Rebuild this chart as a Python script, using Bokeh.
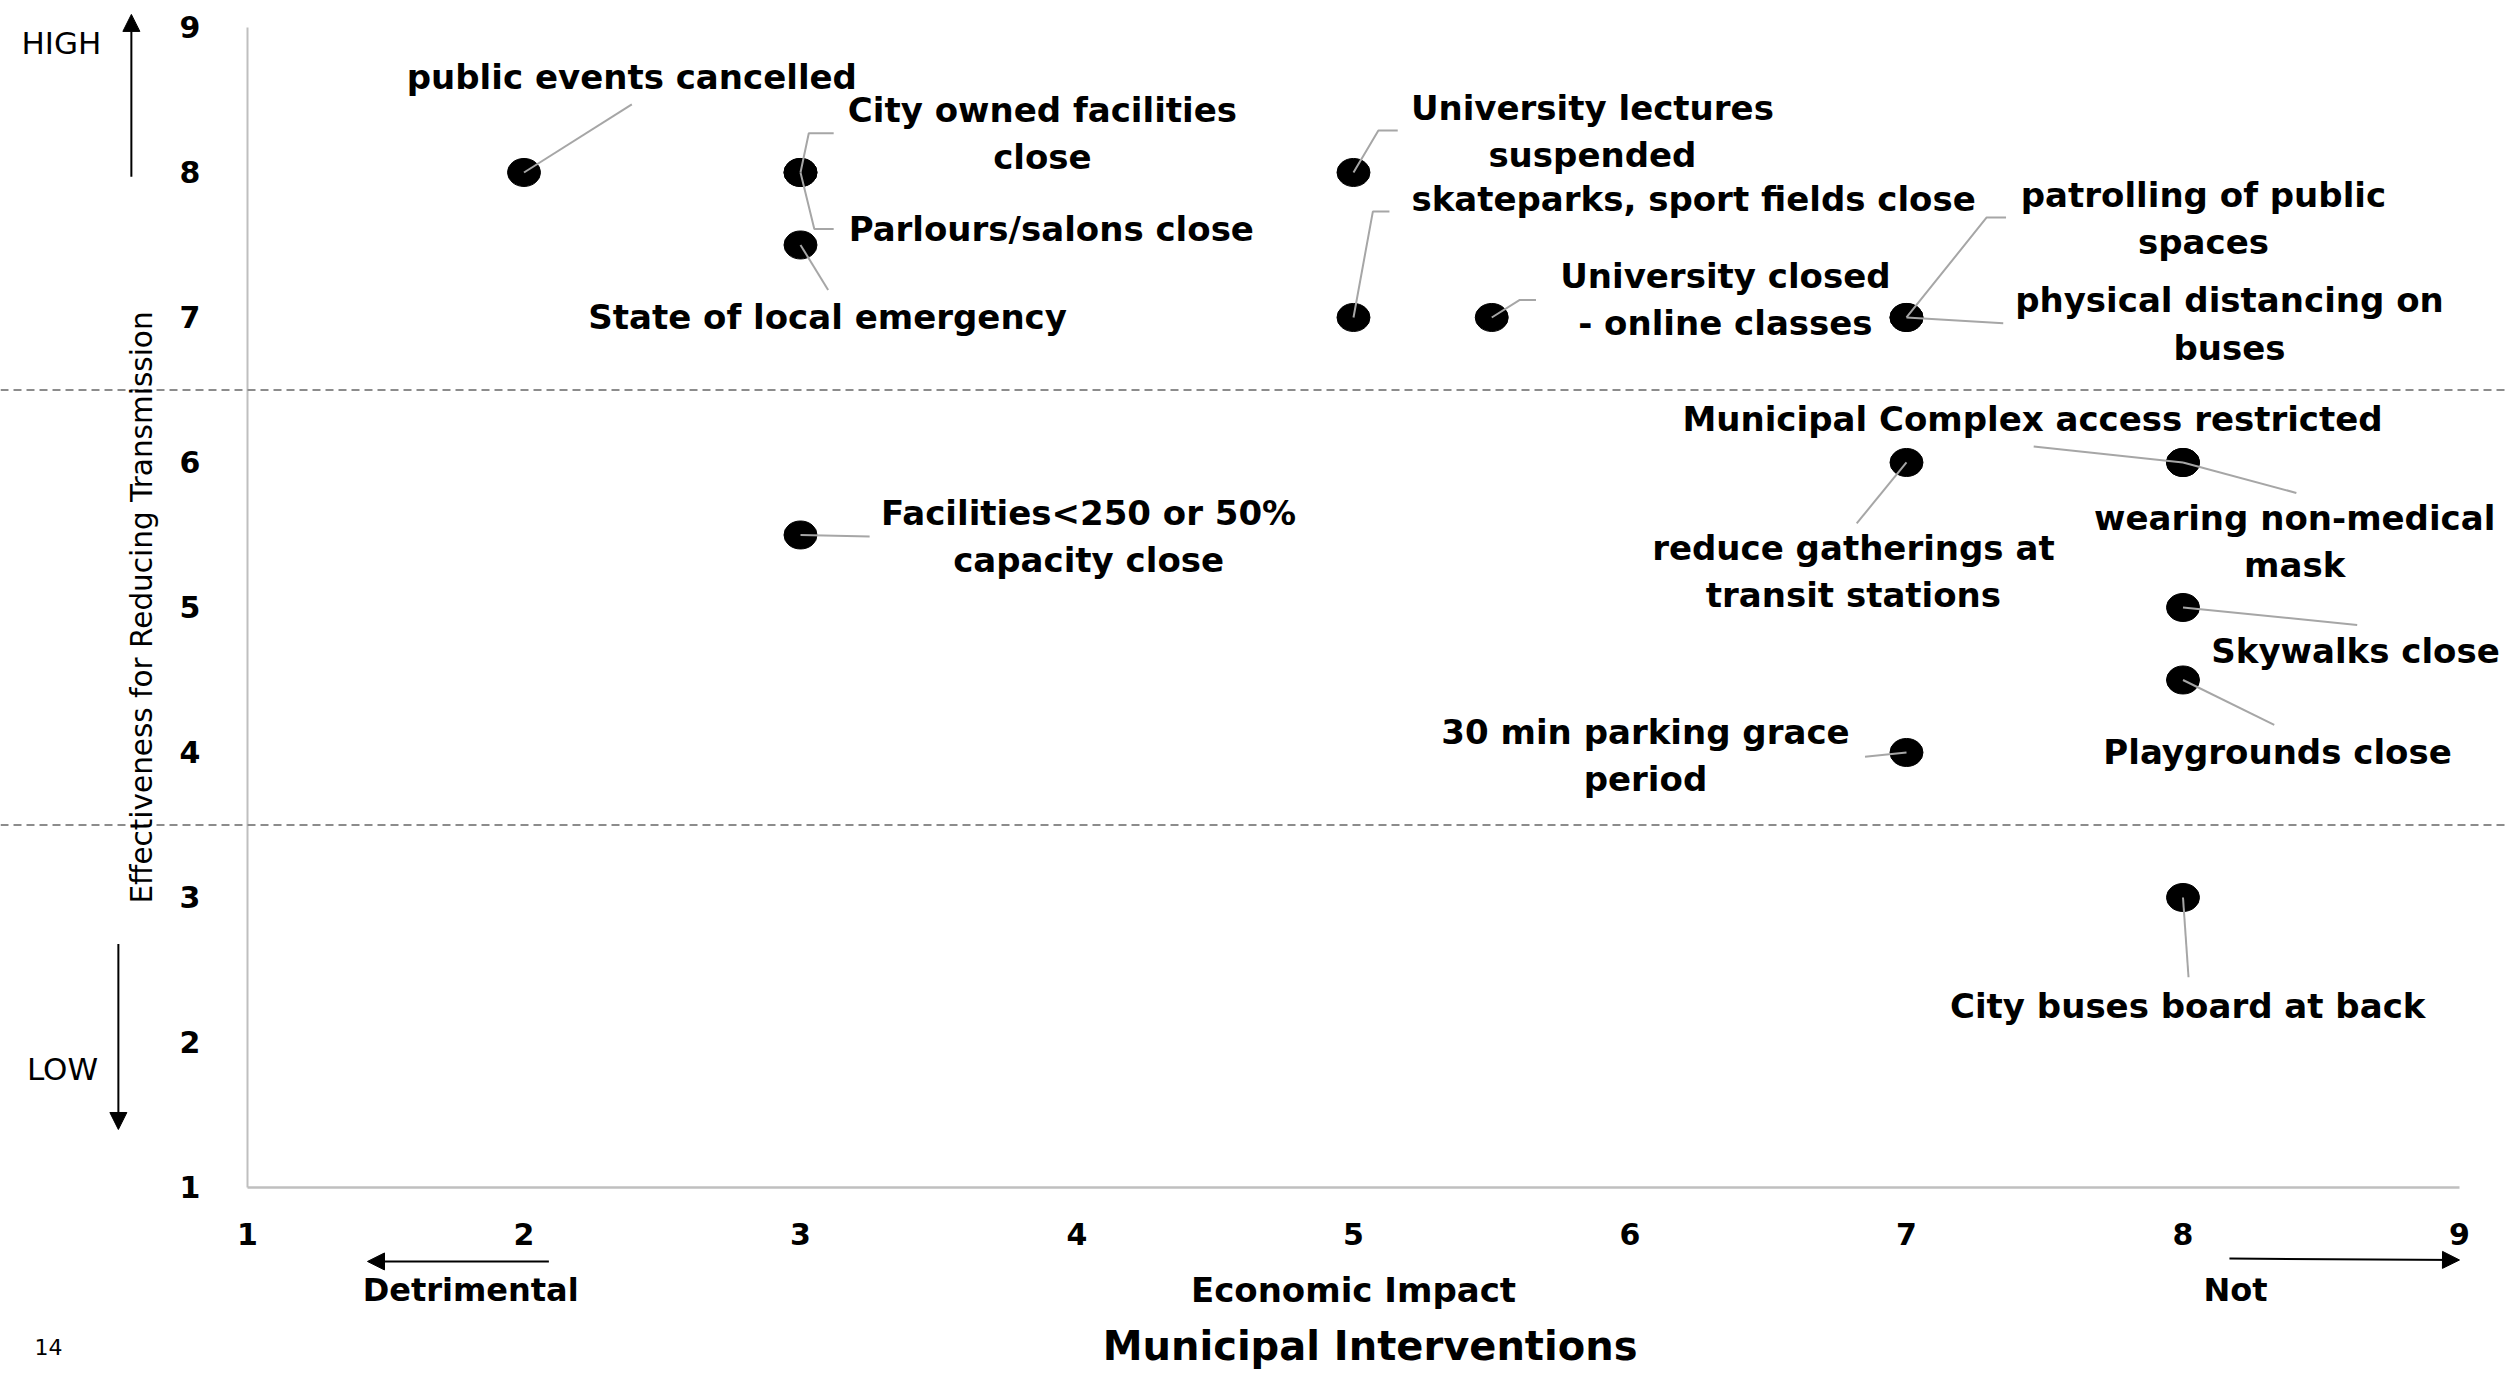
import math
from bokeh.plotting import figure
from bokeh.models import Range1d, FixedTicker, Span, Label, Arrow, NormalHead, ColumnDataSource, LinearAxis
from bokeh.core.properties import value
from bokeh.embed import file_html
from bokeh.resources import INLINE

# ---------------- data ----------------
interventions = [
    "public events cancelled",
    "City owned facilities\nclose",
    "Parlours/salons close",
    "State of local emergency",
    "University lectures\nsuspended",
    "skateparks, sport fields close",
    "University closed\n- online classes",
    "patrolling of public\nspaces",
    "physical distancing on\nbuses",
    "Municipal Complex access restricted",
    "reduce gatherings at\ntransit stations",
    "wearing non-medical\nmask",
    "Skywalks close",
    "Playgrounds close",
    "30 min parking grace\nperiod",
    "City buses board at back",
    "Facilities<250 or 50%\ncapacity close",
]
economic_impact = [2, 3, 3, 3, 5, 5, 5.5, 7, 7, 8, 7, 8, 8, 8, 7, 8, 3]
effectiveness = [8, 8, 8, 7.5, 8, 7, 7, 7, 7, 6, 6, 6, 5, 4.5, 4, 3, 5.5]
x_ticks = [1, 2, 3, 4, 5, 6, 7, 8, 9]
y_ticks = [1, 2, 3, 4, 5, 6, 7, 8, 9]
thresholds = [6.5, 3.5]
x_title = "Economic Impact"
y_title = "Effectiveness for Reducing Transmission"
chart_title = "Municipal Interventions"

# ---------------- label layout (positions of text and leader elbows) ----------------
label_x = [2.39, 3.875, 3.907, 3.098, 5.864, 6.23, 6.345, 8.074, 8.168, 7.456, 6.808, 8.404, 8.624, 8.342, 6.056, 8.017, 4.042]
label_y = [8.655, 8.269, 7.612, 7.0, 8.283, 7.818, 7.124, 7.683, 6.955, 6.297, 5.248, 5.455, 4.697, 4.0, 3.979, 2.255, 5.49]
leader_x = [[2.39], [3.03, 3.12], [3.05, 3.12], [3.1], [5.09, 5.16], [5.07, 5.13], [5.6, 5.66], [7.29, 7.36], [7.35],
            [7.46], [6.82], [8.41], [8.63], [8.33], [6.85], [8.02], [3.25]]
leader_y = [[8.47], [8.27, 8.27], [7.61, 7.61], [7.19], [8.29, 8.29], [7.73, 7.73], [7.12, 7.12], [7.69, 7.69], [6.96],
            [6.11], [5.58], [5.79], [4.88], [4.19], [3.97], [2.45], [5.49]]

FONT = "DejaVu Sans"

# frame fills the whole canvas; axes are drawn at fixed data locations inside it
p = figure(width=2505, height=1374, output_backend="svg", toolbar_location=None,
           x_range=Range1d(0.1067, 9.1664), y_range=Range1d(-0.2897, 9.186),
           x_axis_location=None, y_axis_location=None,
           min_border_left=0, min_border_right=0, min_border_top=0, min_border_bottom=0)
p.outline_line_color = None
p.grid.visible = False
p.background_fill_color = "white"
p.border_fill_color = "white"

xaxis = LinearAxis(fixed_location=1)
yaxis = LinearAxis(fixed_location=1)
p.add_layout(xaxis, "below")
p.add_layout(yaxis, "left")

for ax, ticks in ((xaxis, x_ticks), (yaxis, y_ticks)):
    ax.ticker = FixedTicker(ticks=ticks)
    ax.bounds = (1, 9)
    ax.major_tick_line_color = None
    ax.minor_tick_line_color = None
    ax.axis_line_color = "#bfbfbf"
    ax.major_label_text_font = FONT
    ax.major_label_text_font_style = "bold"
    ax.major_label_text_font_size = "30px"
    ax.major_label_text_color = "black"

xaxis.axis_line_width = 2.5
yaxis.axis_line_width = 2
xaxis.major_label_standoff = 30
yaxis.major_label_standoff = 41

for t in thresholds:
    p.add_layout(Span(location=t, dimension="width", line_color="#8c8c8c", line_width=2, line_dash="8 5"))

# points
p.ellipse(economic_impact, effectiveness, width=33, height=28, width_units="screen", height_units="screen",
          fill_color="black", line_color="black")

# leader lines (drawn over the dots, as in the original)
xs = [[px] + lx for px, lx in zip(economic_impact, leader_x)]
ys = [[py] + ly for py, ly in zip(effectiveness, leader_y)]
p.multi_line(xs, ys, line_color="#a6a6a6", line_width=2)

src = ColumnDataSource(dict(x=label_x, y=label_y, text=interventions))
p.text(x="x", y="y", text="text", source=src, text_font=value(FONT), text_font_style="bold",
       text_font_size="34px", text_align="center", text_baseline="middle", text_line_height=1.18,
       text_color="black")

# direction arrows and annotations
def arrow(x0, y0, x1, y1):
    p.add_layout(Arrow(end=NormalHead(size=17, fill_color="black", line_color="black"),
                       x_start=x0, y_start=y0, x_end=x1, y_end=y1, line_color="black", line_width=2))

arrow(0.58, 7.97, 0.58, 9.09)
arrow(0.533, 2.68, 0.533, 1.40)
arrow(2.09, 0.49, 1.434, 0.49)
arrow(8.168, 0.51, 9.0, 0.50)

def label(x, y, text, size, style="normal", angle=0.0):
    p.add_layout(Label(x=x, y=y, text=text, text_font=FONT, text_font_size=size, text_font_style=style,
                       text_align="center", text_baseline="middle", text_color="black", angle=angle))

label(0.327, 8.89, "HIGH", "31px")
label(0.331, 1.814, "LOW", "31px")
label(1.807, 0.29, "Detrimental", "32px", "bold")
label(5.0, 0.29, x_title, "34px", "bold")
label(8.19, 0.29, "Not", "32px", "bold")
label(5.06, -0.09, chart_title, "40px", "bold")
label(0.28, -0.10, "14", "22px")
label(0.617, 5.0, y_title, "29.5px", angle=math.pi / 2)

open("out.html", "w").write(file_html(p, INLINE))
